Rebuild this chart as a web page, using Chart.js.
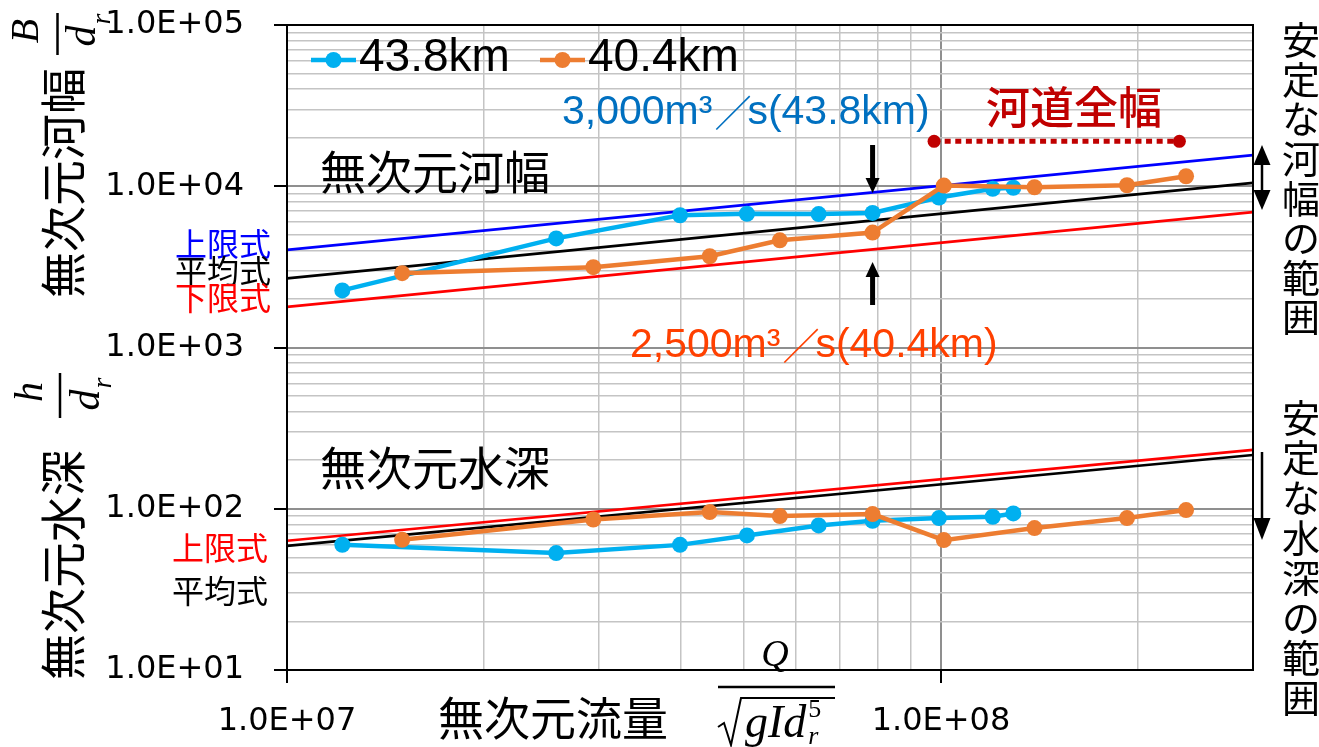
<!DOCTYPE html>
<html>
<head>
<meta charset="utf-8">
<script src="https://cdn.jsdelivr.net/npm/chart.js@4.4.1/dist/chart.umd.min.js"></script>
<style>
  html, body { margin: 0; padding: 0; background: #fff; }
  canvas { display: block; }
</style>
</head>
<body>
<canvas id="chart" width="1319" height="747"></canvas>
<script>
// ---- data -------------------------------------------------------------
// 43.8km cross-section: dimensionless discharge Q/sqrt(g I dr^5)
const q438 = [1.215e7, 2.58e7, 3.99e7, 5.05e7, 6.5e7, 7.86e7, 9.93e7, 1.20e8, 1.29e8];
const width438 = [2260, 4750, 6610, 6750, 6720, 6830, 8510, 9650, 9790];   // B/dr
const depth438 = [59.8, 53.1, 59.7, 68.3, 78.8, 84.2, 87.5, 89.2, 93.5];   // h/dr

// 40.4km cross-section
const q404 = [1.50e7, 2.94e7, 4.43e7, 5.67e7, 7.86e7, 1.01e8, 1.39e8, 1.925e8, 2.37e8];
const width404 = [2890, 3150, 3680, 4620, 5160, 10100, 9860, 10140, 11540];
const depth404 = [64.2, 85.8, 95.4, 90.1, 92.7, 63.9, 75.9, 87.5, 98.1];

// regime formulas (straight lines on log-log axes)
const refQ = [1e7, 3e8];
const widthUpper = [4030, 15580];
const widthMean = [2680, 10480];
const widthLower = [1785, 6920];
const depthUpper = [63.3, 231.5];
const depthMean = [58.9, 215.5];

// full channel width marker
const fullWidthQ = [9.76e7, 2.315e8];
const fullWidthB = [19000, 19000];

// axis ticks
const xTickValues = [1e7, 1e8];
const xTickLabels = ['1.0E+07', '1.0E+08'];
const yTickValues = [1e1, 1e2, 1e3, 1e4, 1e5];
const yTickLabels = ['1.0E+01', '1.0E+02', '1.0E+03', '1.0E+04', '1.0E+05'];

// ---- helpers ----------------------------------------------------------
const pts = (xs, ys) => xs.map((x, i) => ({ x, y: ys[i] }));
const sameVal = (a, b) => Math.abs(Math.log10(a) - Math.log10(b)) < 1e-9;
function labelFor(v, values, labels) {
  const i = values.findIndex(t => sameVal(t, v));
  return i >= 0 ? labels[i] : '';
}
function logGrid(min, max) {
  const out = [];
  for (let e = Math.floor(Math.log10(min)); e <= Math.ceil(Math.log10(max)); e++) {
    for (let m = 1; m <= 9; m++) {
      const v = m * Math.pow(10, e);
      if (v >= min * 0.99999 && v <= max * 1.00001) out.push({ value: v, major: m === 1 });
    }
  }
  return out;
}
const isDecade = v => Math.abs(Math.log10(v) - Math.round(Math.log10(v))) < 1e-9;

const BLUE = '#00B0F0';
const ORANGE = '#ED7D31';
const CJK = '"Noto Sans CJK JP", sans-serif';
const LATIN = '"Liberation Sans", Arial, sans-serif';
const MATH = '"Liberation Serif", "DejaVu Serif", serif';

function seriesLine(label, data, color, order) {
  return {
    label, data, order,
    borderColor: color, backgroundColor: color,
    borderWidth: 4.5, pointRadius: 8, pointHoverRadius: 8,
    pointBackgroundColor: color, pointBorderWidth: 0,
    tension: 0, showLine: true
  };
}
function refLine(label, data, color) {
  return {
    label, data, order: 3,
    borderColor: color, borderWidth: 2.7, pointRadius: 0, tension: 0, showLine: true
  };
}

// ---- decorations ------------------------------------------------------
function text(ctx, s, x, y, font, color, align = 'left', base = 'middle') {
  ctx.font = font; ctx.fillStyle = color; ctx.textAlign = align; ctx.textBaseline = base;
  ctx.fillText(s, x, y);
}
function rotText(ctx, s, cx, cy, font, color) {
  ctx.save();
  ctx.translate(cx, cy); ctx.rotate(-Math.PI / 2);
  text(ctx, s, 0, 0, font, color, 'center', 'middle');
  ctx.restore();
}
function arrowHead(ctx, x, tipY, dir, w, h) {
  // dir = 1 pointing down, -1 pointing up
  ctx.beginPath();
  ctx.moveTo(x, tipY);
  ctx.lineTo(x - w / 2, tipY - dir * h);
  ctx.lineTo(x + w / 2, tipY - dir * h);
  ctx.closePath();
  ctx.fill();
}
function arrow(ctx, x, fromY, toY, shaft, w, h) {
  const dir = toY > fromY ? 1 : -1;
  ctx.strokeStyle = '#000'; ctx.fillStyle = '#000'; ctx.lineWidth = shaft;
  ctx.beginPath(); ctx.moveTo(x, fromY); ctx.lineTo(x, toY - dir * (h - 1)); ctx.stroke();
  arrowHead(ctx, x, toY, dir, w, h);
}
function verticalText(ctx, s, cx, top, pitch, font, color) {
  [...s].forEach((ch, i) => text(ctx, ch, cx, top + pitch * (i + 0.5), font, color, 'center', 'middle'));
}

const decorations = {
  id: 'decorations',
  afterDraw(chart) {
    const { ctx, chartArea: a, scales: { x, y } } = chart;
    ctx.save();

    // plot frame
    ctx.strokeStyle = '#000'; ctx.lineWidth = 2;
    ctx.strokeRect(a.left, a.top, a.right - a.left, a.bottom - a.top);

    // legend
    [[311, BLUE, '43.8km'], [540, ORANGE, '40.4km']].forEach(([x0, c, s]) => {
      ctx.strokeStyle = c; ctx.lineWidth = 4.5;
      ctx.beginPath(); ctx.moveTo(x0, 60); ctx.lineTo(x0 + 45, 60); ctx.stroke();
      ctx.fillStyle = c; ctx.beginPath(); ctx.arc(x0 + 22.5, 60, 8, 0, Math.PI * 2); ctx.fill();
      text(ctx, s, x0 + 48, 58, `46px ${LATIN}`, '#000');
    });

    // panel captions
    text(ctx, '無次元河幅', 320, 172, `46px ${CJK}`, '#000');
    text(ctx, '無次元水深', 320, 468, `46px ${CJK}`, '#000');

    // discharge annotations
    const flowStyle = (s, x0, yc, color) => {
      ctx.font = `41px ${LATIN}`; ctx.fillStyle = color; ctx.textBaseline = 'middle'; ctx.textAlign = 'left';
      let cx = x0;
      const parts = s.split('/');
      ctx.fillText(parts[0], cx, yc); cx += ctx.measureText(parts[0]).width + 2;
      ctx.font = `37px ${CJK}`; ctx.fillText('／', cx, yc); cx += ctx.measureText('／').width - 4;
      ctx.font = `41px ${LATIN}`; ctx.fillText(parts[1], cx, yc);
    };
    flowStyle('3,000m³/s(43.8km)', 562, 113, '#0070C0');
    flowStyle('2,500m³/s(40.4km)', 630, 346, '#FF4000');

    text(ctx, '河道全幅', 986, 107, `500 44px ${CJK}`, '#C00000');

    // arrows pointing at the 3,000 / 2,500 m3/s points
    const ax = x.getPixelForValue(q438[5]);
    arrow(ctx, ax, 145, 193, 5, 14, 15);
    arrow(ctx, ax, 305, 262, 5, 14, 15);

    // stable-range arrows on the right
    const rx = a.right + 9;
    ctx.fillStyle = '#000'; ctx.strokeStyle = '#000'; ctx.lineWidth = 2.5;
    ctx.beginPath(); ctx.moveTo(rx, 160); ctx.lineTo(rx, 195); ctx.stroke();
    arrowHead(ctx, rx, 145, -1, 17, 20);
    arrowHead(ctx, rx, 210, 1, 17, 20);
    arrow(ctx, rx, 452, 540, 2.5, 17, 22);

    verticalText(ctx, '安定な河幅の範囲', 1301, 20, 39.6, `38px ${CJK}`, '#000');
    verticalText(ctx, '安定な水深の範囲', 1301, 398, 40, `38px ${CJK}`, '#000');

    // formula captions left of the axis
    text(ctx, '上限式', 271, 244, `32px ${CJK}`, '#0000FF', 'right');
    text(ctx, '平均式', 271, 271, `32px ${CJK}`, '#000', 'right');
    text(ctx, '下限式', 271, 298, `32px ${CJK}`, '#FF0000', 'right');
    text(ctx, '上限式', 268, 548, `32px ${CJK}`, '#FF0000', 'right');
    text(ctx, '平均式', 268, 591, `32px ${CJK}`, '#000', 'right');

    // y-axis titles (rotated)
    rotText(ctx, '無次元河幅', 63, 183, `46px ${CJK}`, '#000');
    rotText(ctx, 'B', 27, 31, `italic 40px ${MATH}`, '#000');
    rotText(ctx, 'd', 84, 36, `italic 42px ${MATH}`, '#000');
    rotText(ctx, 'r', 103, 19, `italic 28px ${MATH}`, '#000');
    ctx.strokeStyle = '#000'; ctx.lineWidth = 2.5;
    ctx.beginPath(); ctx.moveTo(57.5, 13); ctx.lineTo(57.5, 55); ctx.stroke();

    rotText(ctx, '無次元水深', 63, 565, `46px ${CJK}`, '#000');
    rotText(ctx, 'h', 31, 392, `italic 40px ${MATH}`, '#000');
    rotText(ctx, 'd', 88, 400, `italic 42px ${MATH}`, '#000');
    rotText(ctx, 'r', 104, 383, `italic 28px ${MATH}`, '#000');
    ctx.beginPath(); ctx.moveTo(60, 373); ctx.lineTo(60, 418); ctx.stroke();

    // x-axis title
    text(ctx, '無次元流量', 438, 718, `46px ${CJK}`, '#000');
    text(ctx, 'Q', 775, 656, `italic 38px ${MATH}`, '#000', 'center');
    ctx.lineWidth = 2.5;
    ctx.beginPath(); ctx.moveTo(718, 687); ctx.lineTo(835, 687); ctx.stroke();
    ctx.lineWidth = 2;
    ctx.beginPath();
    ctx.moveTo(718, 727); ctx.lineTo(724, 723); ctx.lineTo(731, 745); ctx.lineTo(741, 698); ctx.lineTo(835, 698);
    ctx.stroke();
    ctx.font = `italic 46px ${MATH}`;
    const gx = 745 + ctx.measureText('gId').width + 2;
    text(ctx, 'gId', 745, 737, `italic 46px ${MATH}`, '#000', 'left', 'alphabetic');
    text(ctx, '5', gx, 710, `26px ${MATH}`, '#000', 'left');
    text(ctx, 'r', gx, 737, `italic 26px ${MATH}`, '#000', 'left');

    ctx.restore();
  }
};

// ---- chart ------------------------------------------------------------
const gridColor = c => (c.tick && isDecade(c.tick.value)) ? '#8f8f8f' : '#c4c4c4';
const gridWidth = c => (c.tick && isDecade(c.tick.value)) ? 2 : 1.5;

new Chart(document.getElementById('chart'), {
  type: 'line',
  data: {
    datasets: [
      seriesLine('40.4km', pts(q404, width404), ORANGE, 0),
      seriesLine('40.4km h', pts(q404, depth404), ORANGE, 0),
      seriesLine('43.8km', pts(q438, width438), BLUE, 1),
      seriesLine('43.8km h', pts(q438, depth438), BLUE, 1),
      {
        label: '河道全幅', data: pts(fullWidthQ, fullWidthB), order: 2,
        borderColor: '#C00000', backgroundColor: '#C00000', borderWidth: 5,
        borderDash: [6, 4.6], borderCapStyle: 'butt',
        pointRadius: 6.5, pointBorderWidth: 0, pointBackgroundColor: '#C00000', showLine: true
      },
      refLine('上限式', pts(refQ, widthUpper), '#0000FF'),
      refLine('平均式', pts(refQ, widthMean), '#000000'),
      refLine('下限式', pts(refQ, widthLower), '#FF0000'),
      refLine('上限式 h', pts(refQ, depthUpper), '#FF0000'),
      refLine('平均式 h', pts(refQ, depthMean), '#000000')
    ]
  },
  options: {
    responsive: false,
    devicePixelRatio: 1,
    animation: false,
    layout: { padding: { left: 0, right: 66, top: 25, bottom: 0 } },
    plugins: { legend: { display: false }, tooltip: { enabled: false }, title: { display: false } },
    scales: {
      x: {
        type: 'logarithmic', min: 1e7, max: 3e8,
        afterBuildTicks: s => { s.ticks = logGrid(1e7, 3e8); },
        afterFit: s => { s.height = 77; s.paddingLeft = 0; s.paddingRight = 0; },
        ticks: {
          autoSkip: false, maxRotation: 0, padding: 19,
          font: { family: 'DejaVu Sans', size: 32 }, color: '#000',
          callback: v => labelFor(v, xTickValues, xTickLabels)
        },
        grid: {
          color: gridColor, lineWidth: gridWidth, tickLength: 13, tickWidth: 2,
          tickColor: c => (c.tick && xTickValues.some(t => sameVal(t, c.tick.value))) ? '#000' : 'rgba(0,0,0,0)'
        },
        border: { display: true, color: '#000', width: 2 }
      },
      y: {
        type: 'logarithmic', min: 10, max: 1e5,
        afterBuildTicks: s => { s.ticks = logGrid(10, 1e5); },
        afterFit: s => { s.width = 287; s.paddingTop = 0; s.paddingBottom = 0; },
        ticks: {
          autoSkip: false, padding: 30,
          font: { family: 'DejaVu Sans', size: 32 }, color: '#000',
          callback: v => labelFor(v, yTickValues, yTickLabels)
        },
        grid: {
          color: gridColor, lineWidth: gridWidth, tickLength: 13, tickWidth: 2,
          tickColor: c => (c.tick && isDecade(c.tick.value)) ? '#000' : 'rgba(0,0,0,0)'
        },
        border: { display: true, color: '#000', width: 2 }
      }
    }
  },
  plugins: [decorations]
});
</script>
</body>
</html>
